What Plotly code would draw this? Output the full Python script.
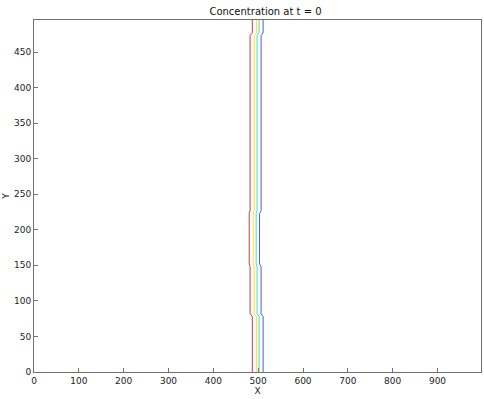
import plotly.graph_objects as go

# Contour levels (jet colours, high -> low) and their x positions in each y band
level_names = ["0.8", "0.6", "0.4", "0.2"]
level_colors = ["#c83c3c", "#f2e41c", "#3cdcf4", "#5a5ac4"]

# y band boundaries (where the front shifts)
band_edges = [0, 80, 150, 225, 475, 496]
# band sequence: which x-set each band uses
band_kind = ["A", "B", "C", "B", "A"]
x_by_kind = {
    "A": [487, 496, 502, 511],
    "B": [482, 491, 497.5, 506.5],
    "C": [480, 489, 495.5, 503],
}
transition_half = 2

x_ticks = [0, 100, 200, 300, 400, 500, 600, 700, 800, 900]
y_ticks = [0, 50, 100, 150, 200, 250, 300, 350, 400, 450]

fig = go.Figure()
for i, (name, col) in enumerate(zip(level_names, level_colors)):
    xs, ys = [], []
    for b, kind in enumerate(band_kind):
        y0 = band_edges[b] + (transition_half if b > 0 else 0)
        y1 = band_edges[b + 1] - (transition_half if b < len(band_kind) - 1 else 0)
        xv = x_by_kind[kind][i]
        xs += [xv, xv]
        ys += [y0, y1]
    fig.add_trace(go.Scatter(x=xs, y=ys, mode="lines", name=name,
                             line=dict(color=col, width=1), hoverinfo="skip"))

axis_font = dict(family="DejaVu Sans", size=9, color="#222222")
fig.update_layout(
    width=484, height=399,
    margin=dict(l=34, r=3, t=20, b=27),
    paper_bgcolor="white", plot_bgcolor="white",
    showlegend=False,
    title=dict(text="Concentration at t = 0", x=0.5486, xref="container",
               xanchor="center", y=1 - 11.5 / 399, yanchor="middle",
               font=dict(family="DejaVu Sans", size=10, color="#111111")),
    xaxis=dict(range=[0, 997], tickvals=x_ticks, ticks="inside", ticklen=4,
               tickcolor="#707070", showline=True, linecolor="#707070",
               mirror=True, showgrid=False, zeroline=False,
               tickfont=axis_font,
               title=dict(text="X", font=dict(family="DejaVu Sans", size=9, color="#222222"), standoff=2)),
    yaxis=dict(range=[0, 495], tickvals=y_ticks, ticks="inside", ticklen=4,
               tickcolor="#707070", showline=True, linecolor="#707070",
               mirror=True, showgrid=False, zeroline=False,
               tickfont=axis_font,
               title=dict(text="Y", font=dict(family="DejaVu Sans", size=9, color="#222222"), standoff=2)),
)

fig.write_html("out.html")
